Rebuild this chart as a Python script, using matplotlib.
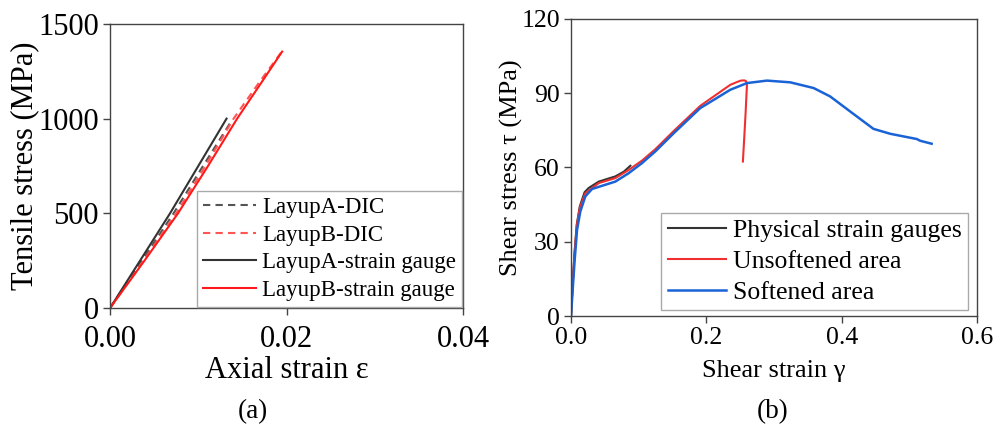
import matplotlib
matplotlib.use("Agg")
import matplotlib.pyplot as plt

plt.rcParams['font.family'] = ['Liberation Serif', 'DejaVu Serif']

# ---- Panel (a) data ----
a_sgA_x = [0.0, 0.0034, 0.0068, 0.0100, 0.0132]
a_sgA_y = [0, 250, 500, 750, 1000]
a_dicA_x = [0.0, 0.0036, 0.0072, 0.0104, 0.0136]
a_dicA_y = [0, 250, 500, 740, 976]
a_sgB_x = [0.0, 0.0039, 0.0077, 0.0111, 0.0144, 0.0170, 0.0195]
a_sgB_y = [0, 250, 500, 750, 1000, 1180, 1354]
a_dicB_x = [0.0, 0.0038, 0.0075, 0.0108, 0.0140, 0.0168, 0.0196]
a_dicB_y = [0, 250, 500, 750, 1000, 1185, 1363]

# ---- Panel (b) data ----
b_soft_x = [0.0, 0.0024, 0.0054, 0.0089, 0.0137, 0.0211, 0.031, 0.0458, 0.0655,
            0.0852, 0.105, 0.1246, 0.152, 0.191, 0.2354, 0.260, 0.2896, 0.324,
            0.3585, 0.383, 0.4127, 0.447, 0.472, 0.511, 0.516, 0.533]
b_soft_y = [0, 10.5, 22.7, 34.8, 42.2, 48.3, 51.3, 52.6, 54.3,
            57.7, 61.8, 66.5, 73.9, 84.0, 91.4, 94.1, 95.1, 94.4,
            92.1, 88.7, 82.6, 75.6, 73.6, 71.5, 70.8, 69.6]
b_unsoft_x = [0.0, 0.0022, 0.005, 0.0085, 0.013, 0.0211, 0.0409, 0.0655, 0.0852,
              0.105, 0.1246, 0.152, 0.191, 0.2354, 0.246, 0.251, 0.256, 0.259,
              0.260, 0.258, 0.256, 0.254]
b_unsoft_y = [0, 11.5, 24.5, 36.5, 43.8, 49.6, 53.7, 55.7, 59.0,
              62.8, 67.4, 74.8, 84.9, 93.4, 94.6, 95.1, 95.2, 94.8,
              93.4, 82, 72, 62.4]
b_phys_x = [0.0, 0.0022, 0.005, 0.0085, 0.013, 0.020, 0.026, 0.041, 0.0655, 0.078, 0.0877]
b_phys_y = [0, 12, 25, 37, 44.3, 50.0, 51.7, 54.3, 56.4, 58.3, 60.7]

a_xticks = [0.00, 0.02, 0.04]
a_xticklabels = ["0.00", "0.02", "0.04"]
a_yticks = [0, 500, 1000, 1500]
b_xticks = [0.0, 0.2, 0.4, 0.6]
b_xticklabels = ["0.0", "0.2", "0.4", "0.6"]
b_yticks = [0, 30, 60, 90, 120]

fig = plt.figure(figsize=(9.95, 4.33), dpi=100)
spine_c = '#444444'

# ---- (a) ----
ax1 = fig.add_axes([0.1106, 0.2887, 0.3548, 0.656])
ax1.plot(a_dicA_x, a_dicA_y, color='#555555', ls=(0, (3.5, 2.5)), lw=1.5, label='LayupA-DIC')
ax1.plot(a_dicB_x, a_dicB_y, color='#ff5555', ls=(0, (3.5, 2.5)), lw=1.5, label='LayupB-DIC')
ax1.plot(a_sgA_x, a_sgA_y, color='#333333', lw=1.5, label='LayupA-strain gauge')
ax1.plot(a_sgB_x, a_sgB_y, color='#ff1a1a', lw=1.5, label='LayupB-strain gauge')
ax1.set_xlim(0, 0.04)
ax1.set_ylim(0, 1500)
ax1.set_xticks(a_xticks)
ax1.set_xticklabels(a_xticklabels)
ax1.set_yticks(a_yticks)
ax1.tick_params(labelsize=22, direction='out', length=5, width=1, color=spine_c, pad=3)
ax1.tick_params(axis='x', pad=7)
ax1.set_xlabel('Axial strain ε', fontsize=22, labelpad=2)
ax1.set_ylabel('Tensile stress (MPa)', fontsize=22, labelpad=-1)
leg1 = ax1.legend(loc='lower right', bbox_to_anchor=(0.997, 0.003), borderaxespad=0,
                  fontsize=16.5, handlelength=2.3, labelspacing=0.3, handletextpad=0.3,
                  borderpad=0.25, fancybox=False, framealpha=1, edgecolor='#aaaaaa')
leg1.get_frame().set_linewidth(1)

# ---- (b) ----
ax2 = fig.add_axes([0.5739, 0.2702, 0.408, 0.686])
ax2.plot(b_phys_x, b_phys_y, color='#333333', lw=1.5, label='Physical strain gauges')
ax2.plot(b_unsoft_x, b_unsoft_y, color='#f03030', lw=1.5, label='Unsoftened area')
ax2.plot(b_soft_x, b_soft_y, color='#1a63d6', lw=1.8, label='Softened area')
ax2.set_xlim(0, 0.6)
ax2.set_ylim(0, 120)
ax2.set_xticks(b_xticks)
ax2.set_xticklabels(b_xticklabels)
ax2.set_yticks(b_yticks)
ax2.tick_params(labelsize=18.5, direction='out', length=5, width=1, color=spine_c, pad=3)
ax2.set_xlabel('Shear strain γ', fontsize=19, labelpad=8)
ax2.set_ylabel('Shear stress τ (MPa)', fontsize=19, labelpad=-1)
leg2 = ax2.legend(loc='lower right', bbox_to_anchor=(0.979, 0.02), borderaxespad=0,
                  fontsize=18.5, handlelength=2.25, labelspacing=0.3, handletextpad=0.3,
                  borderpad=0.25, fancybox=False, framealpha=1, edgecolor='#aaaaaa')
leg2.get_frame().set_linewidth(1)

for ax in (ax1, ax2):
    for s in ax.spines.values():
        s.set_color(spine_c)
        s.set_linewidth(1)

fig.text(253 / 995, 1 - 412 / 433, '(a)', fontsize=19.5, ha='center', va='center')
fig.text(773 / 995, 1 - 412 / 433, '(b)', fontsize=19.5, ha='center', va='center')

fig.savefig('out.png', dpi=100)
